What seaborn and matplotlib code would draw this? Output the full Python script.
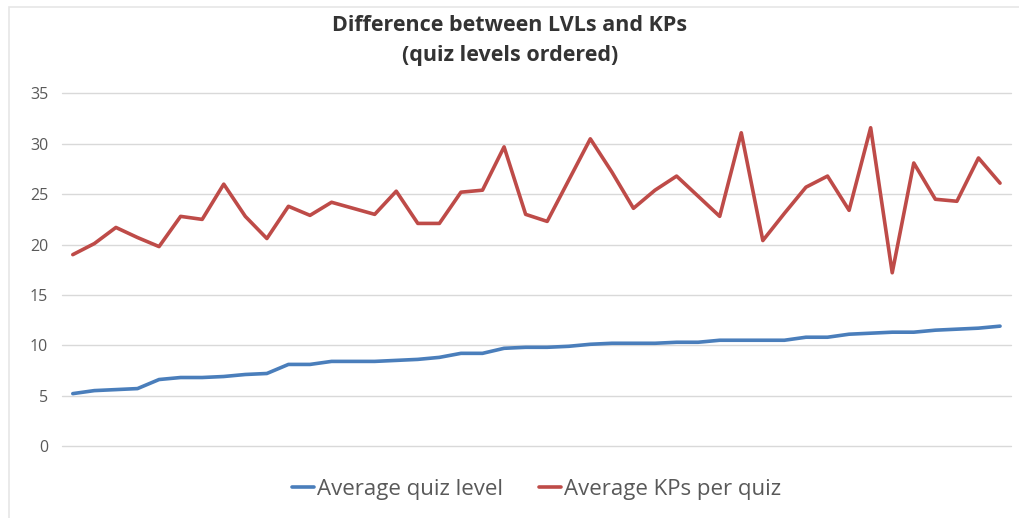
import numpy as np
import pandas as pd
import seaborn as sns
import matplotlib.pyplot as plt
from matplotlib.patches import Rectangle

# values (44 quizzes, ordered by level)
avg_quiz_level = [5.2, 5.5, 5.6, 5.7, 6.6, 6.8, 6.8, 6.9, 7.1, 7.2,
                  8.1, 8.1, 8.4, 8.4, 8.4, 8.5, 8.6, 8.8, 9.2, 9.2,
                  9.7, 9.8, 9.8, 9.9, 10.1, 10.2, 10.2, 10.2, 10.3, 10.3,
                  10.5, 10.5, 10.5, 10.5, 10.8, 10.8, 11.1, 11.2, 11.3, 11.3,
                  11.5, 11.6, 11.7, 11.9]
avg_kps_per_quiz = [19.0, 20.1, 21.7, 20.7, 19.8, 22.8, 22.5, 26.0, 22.8, 20.6,
                    23.8, 22.9, 24.2, 23.6, 23.0, 25.3, 22.1, 22.1, 25.2, 25.4,
                    29.7, 23.0, 22.3, 26.4, 30.5, 27.2, 23.6, 25.4, 26.8, 24.8,
                    22.8, 31.1, 20.4, 23.1, 25.7, 26.8, 23.4, 31.6, 17.2, 28.1,
                    24.5, 24.3, 28.6, 26.1]
series_names = ["Average quiz level", "Average KPs per quiz"]
yticks = [0, 5, 10, 15, 20, 25, 30, 35]

quiz = np.arange(len(avg_quiz_level))
df = pd.DataFrame({"quiz": np.concatenate([quiz, quiz]),
                   "value": avg_quiz_level + avg_kps_per_quiz,
                   "series": [series_names[0]] * len(quiz) + [series_names[1]] * len(quiz)})

sns.set_style("white")
plt.rcParams['font.family'] = ['Open Sans', 'DejaVu Sans']

fig = plt.figure(figsize=(10.2, 5.18), dpi=100)
ax = fig.add_axes([0.0608, 0.139, 0.9302, 0.6805])

# light chart frame
fig.patches.append(Rectangle((9 / 1020, -0.1), 1.2, 1 - 7 / 518 + 0.1,
                             transform=fig.transFigure, fill=False,
                             edgecolor="#e6e6e6", linewidth=1.2))

sns.lineplot(data=df, x="quiz", y="value", hue="series",
             palette=["#4a7ebb", "#be4b48"], linewidth=2.6, ax=ax)

ax.set_xlim(-0.5, len(quiz) - 0.5)
ax.set_ylim(0, 35)
ax.set_yticks(yticks)
ax.set_xticks([])
ax.set_xlabel("")
ax.set_ylabel("")
ax.yaxis.grid(True, color="#d9d9d9", linewidth=1, clip_on=False)
ax.set_axisbelow(True)
for s in ax.spines.values():
    s.set_visible(False)
ax.tick_params(axis="y", length=0, pad=10, labelsize=11.5, labelcolor="#595959")

fig.suptitle("Difference between LVLs and KPs\n(quiz levels ordered)",
             y=0.972, fontsize=15.5, fontweight="bold", color="#333333",
             linespacing=1.6)

handles, labels = ax.get_legend_handles_labels()
ax.legend(handles, labels, loc="center", bbox_to_anchor=(0.5, -0.122),
          ncol=2, frameon=False, fontsize=16, labelcolor="#595959",
          handlelength=1.0, handletextpad=0.15, columnspacing=1.6)

fig.savefig("out.png", dpi=100, facecolor="white")
